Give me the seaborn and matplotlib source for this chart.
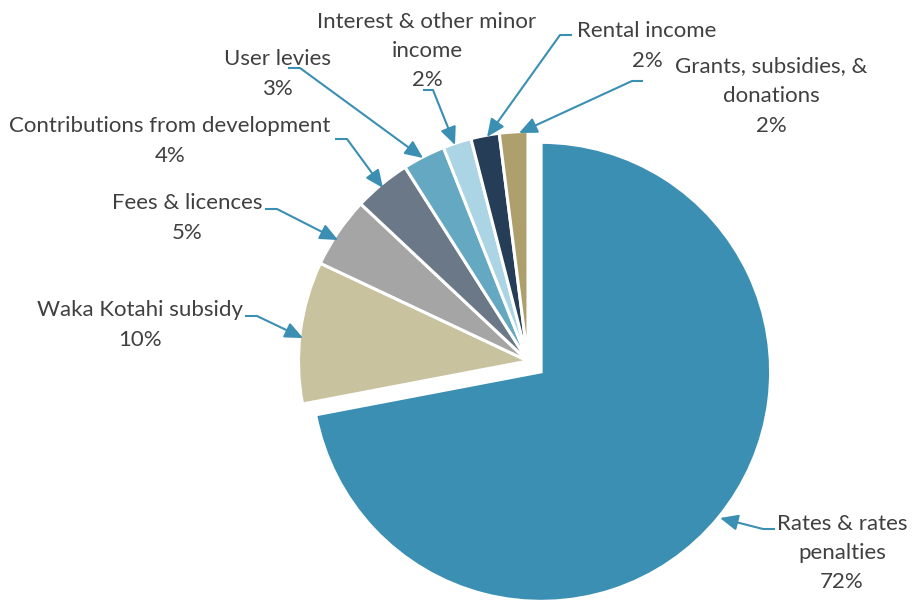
import matplotlib
matplotlib.use("Agg")
import matplotlib.pyplot as plt
import seaborn as sns

# ---- data ----
categories = ["Rates & rates\npenalties", "Waka Kotahi subsidy", "Fees & licences",
              "Contributions from development", "User levies",
              "Interest & other minor\nincome", "Rental income", "Grants, subsidies, &\ndonations"]
shares = [72, 10, 5, 4, 3, 2, 2, 2]
colors = ["#3A8FB3", "#C9C29E", "#A5A5A5", "#6B7888", "#64A8C2", "#ABD4E4", "#253D57", "#ADA06C"]

# ---- layout (screen pixel coords: x, y from top) ----
label_pos = [(842, 551), (140, 323), (187, 216), (170, 139), (277, 72), (427, 49), (647, 44), (771, 94)]
leaders = [
    [(775, 529), (763, 529), (720, 518)],
    [(245, 316), (257, 316), (303, 338)],
    [(265, 209), (277, 209), (338, 240)],
    [(335, 139), (347, 139), (383, 188)],
    [(288, 68), (300, 68), (423, 158)],
    [(423, 90), (433, 90), (455, 145)],
    [(572, 35), (560, 35), (487, 137)],
    [(643, 81), (632, 81), (519, 133)],
]
LINE_PITCH = 29.5

W, H = 914, 600
sns.set_style("white")
plt.rcParams["font.family"] = ["Lato", "DejaVu Sans"]
palette = sns.color_palette(colors)

fig = plt.figure(figsize=(W / 100, H / 100), dpi=100)
ax = fig.add_axes([0, 0, 1, 1])

def fy(y):
    return H - y

explode = [17] + [0] * (len(shares) - 1)
ax.pie(shares, colors=palette, startangle=90, counterclock=False, explode=explode,
       center=(528, fy(361)), radius=229.5,
       wedgeprops=dict(edgecolor="white", linewidth=2.2))

text_color = "#404040"
line_color = "#3A8FB3"
for cat, val, (lx, ly), pts in zip(categories, shares, label_pos, leaders):
    lines = cat.split("\n") + [f"{val}%"]
    n = len(lines)
    for i, s in enumerate(lines):
        yy = ly + (i - (n - 1) / 2) * LINE_PITCH
        ax.text(lx, fy(yy), s, ha="center", va="center_baseline",
                fontsize=16, color=text_color)
    (x0, y0), (x1, y1), (x2, y2) = pts
    ax.plot([x0, x1], [fy(y0), fy(y1)], color=line_color, lw=1.5, solid_capstyle="butt")
    ax.annotate("", xy=(x2, fy(y2)), xytext=(x1, fy(y1)),
                arrowprops=dict(arrowstyle="-|>,head_length=0.9,head_width=0.4",
                                mutation_scale=12, color=line_color, lw=1.5,
                                shrinkA=0, shrinkB=0))

ax.set_xlim(0, W)
ax.set_ylim(0, H)
ax.set_aspect("auto")
ax.set_axis_off()
fig.savefig("out.png", dpi=100)
